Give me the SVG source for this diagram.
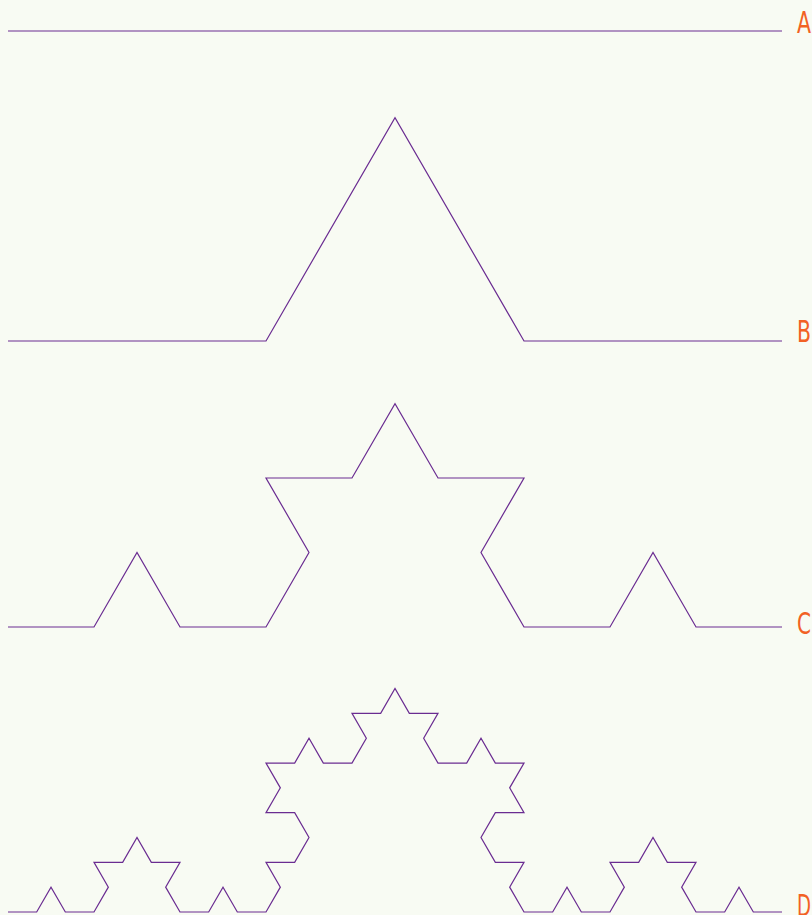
<svg xmlns="http://www.w3.org/2000/svg" width="812" height="915" viewBox="0 0 812 915">
<style>
.curve{fill:none;stroke:#6a2c91;stroke-width:1.2;stroke-linejoin:miter}
.lbl{font-family:"DejaVu Sans Condensed","Liberation Sans Narrow",sans-serif;font-size:31px;fill:#f26124}
</style>
<rect width="812" height="915" fill="#f8fbf3"/>
<g id="connectors">
<g id="curveA"><path class="curve" d="M8 31 H782"/></g>
<g id="curveB"><path class="curve" d="M8 341 H266 L395 117.6 L524 341 H782"/></g>
<g id="curveC"><path class="curve" d="M8 627 H94 L137 552.5 L180 627 H266 L309 552.5 L266 478 H352 L395 403.6 L438 478 H524 L481 552.5 L524 627 H610 L653 552.5 L696 627 H782"/></g>
<g id="curveD"><path class="curve" d="M8 912
h28.667 l14.333-24.826 l14.333 24.826 h28.667
l14.333-24.826 l-14.333-24.826 h28.667 l14.333-24.826
l14.333 24.826 h28.667 l-14.333 24.826 l14.333 24.826
h28.667 l14.333-24.826 l14.333 24.826 h28.667
l14.333-24.826 l-14.333-24.826 h28.667 l14.333-24.826
l-14.333-24.826 h-28.667 l14.333-24.826 l-14.333-24.826
h28.667 l14.333-24.826 l14.333 24.826 h28.667
l14.333-24.826 l-14.333-24.826 h28.667 l14.333-24.826
l14.333 24.826 h28.667 l-14.333 24.826 l14.333 24.826
h28.667 l14.333-24.826 l14.333 24.826 h28.667
l-14.333 24.826 l14.333 24.826 h-28.667 l-14.333 24.826
l14.333 24.826 h28.667 l-14.333 24.826 l14.333 24.826
h28.667 l14.333-24.826 l14.333 24.826 h28.667
l14.333-24.826 l-14.333-24.826 h28.667 l14.333-24.826
l14.333 24.826 h28.667 l-14.333 24.826 l14.333 24.826
h28.667 l14.333-24.826 l14.333 24.826 h28.667"/></g>
</g>
<g id="labelA"><text class="lbl" x="797" y="33" textLength="14" lengthAdjust="spacingAndGlyphs">A</text></g>
<g id="labelB"><text class="lbl" x="797" y="342" textLength="14" lengthAdjust="spacingAndGlyphs">B</text></g>
<g id="labelC"><text class="lbl" x="797" y="634" textLength="14" lengthAdjust="spacingAndGlyphs">C</text></g>
<g id="labelD"><text class="lbl" x="797" y="916" textLength="14" lengthAdjust="spacingAndGlyphs">D</text></g>
</svg>
